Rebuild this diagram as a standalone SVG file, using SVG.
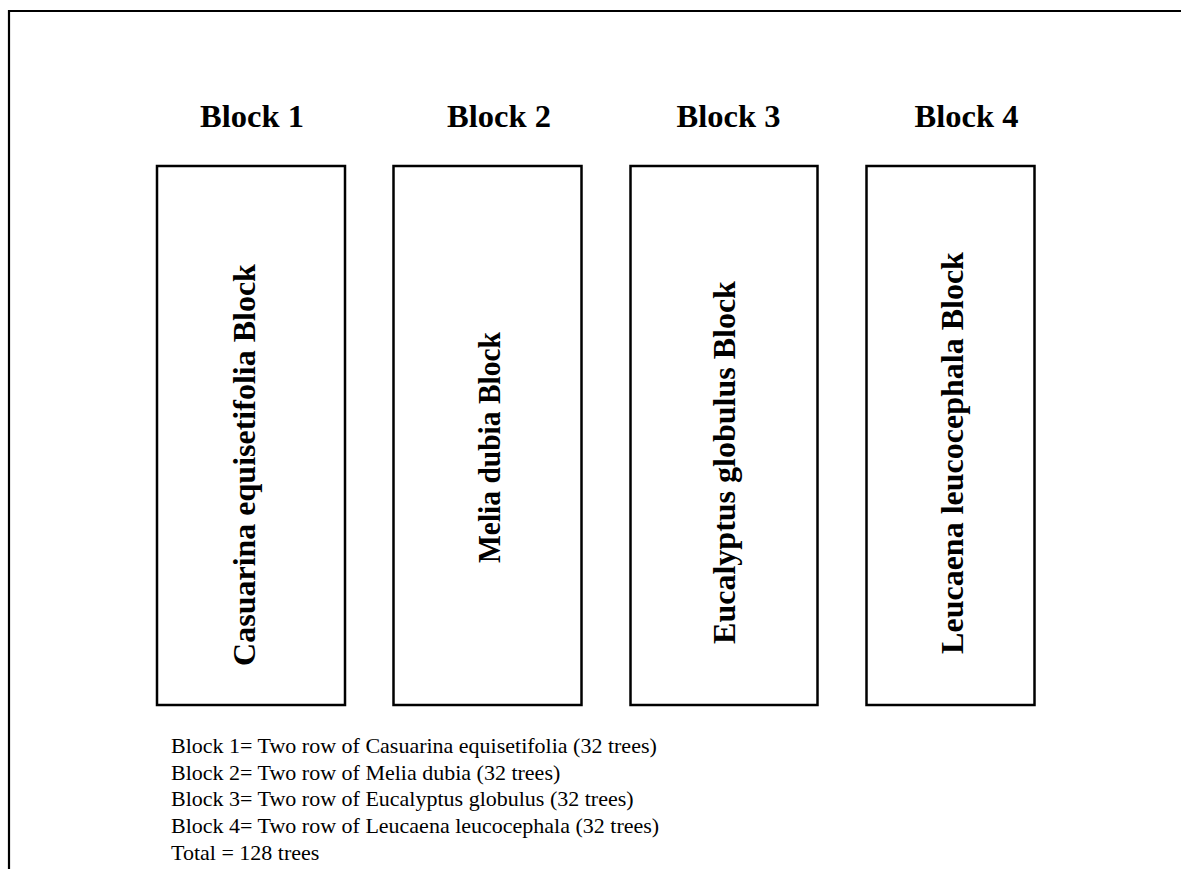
<svg xmlns="http://www.w3.org/2000/svg" width="1181" height="869" viewBox="0 0 1181 869">
<style>
.box{fill:#fff;stroke:#000;stroke-width:2.5}
.hd{font-family:"Liberation Serif",serif;font-weight:bold;font-size:32.5px;text-anchor:middle;fill:#000}
.lbl{font-family:"Liberation Serif",serif;font-weight:bold;font-size:32px;text-anchor:middle;fill:#000}
.leg{font-family:"Liberation Serif",serif;font-size:22px;fill:#000}
</style>
<rect width="1181" height="869" fill="#fff"/>
<path d="M9,869 V11 H1181" fill="none" stroke="#000" stroke-width="2.2"/>
<g id="block1">
<text class="hd" x="252" y="127">Block 1</text>
<rect class="box" x="157" y="166" width="188" height="539"/>
<text class="lbl" transform="translate(255,465) rotate(-90)">Casuarina equisetifolia Block</text>
</g>
<g id="block2">
<text class="hd" x="499" y="127">Block 2</text>
<rect class="box" x="393.5" y="166" width="188" height="539"/>
<text class="lbl" transform="translate(500,447.5) rotate(-90)" textLength="231" lengthAdjust="spacingAndGlyphs">Melia dubia Block</text>
</g>
<g id="block3">
<text class="hd" x="728.5" y="127">Block 3</text>
<rect class="box" x="630.5" y="166" width="187" height="539"/>
<text class="lbl" transform="translate(735,462.5) rotate(-90)">Eucalyptus globulus Block</text>
</g>
<g id="block4">
<text class="hd" x="966.5" y="127">Block 4</text>
<rect class="box" x="866.5" y="166" width="168" height="539"/>
<text class="lbl" transform="translate(963,453) rotate(-90)">Leucaena leucocephala Block</text>
</g>
<g id="connectors"></g>
<g id="legend">
<text class="leg" x="171" y="753">Block 1= Two row of Casuarina equisetifolia (32 trees)</text>
<text class="leg" x="171" y="779.5">Block 2= Two row of Melia dubia (32 trees)</text>
<text class="leg" x="171" y="806">Block 3= Two row of Eucalyptus globulus (32 trees)</text>
<text class="leg" x="171" y="833">Block 4= Two row of Leucaena leucocephala (32 trees)</text>
<text class="leg" x="171" y="860">Total = 128 trees</text>
</g>
</svg>
